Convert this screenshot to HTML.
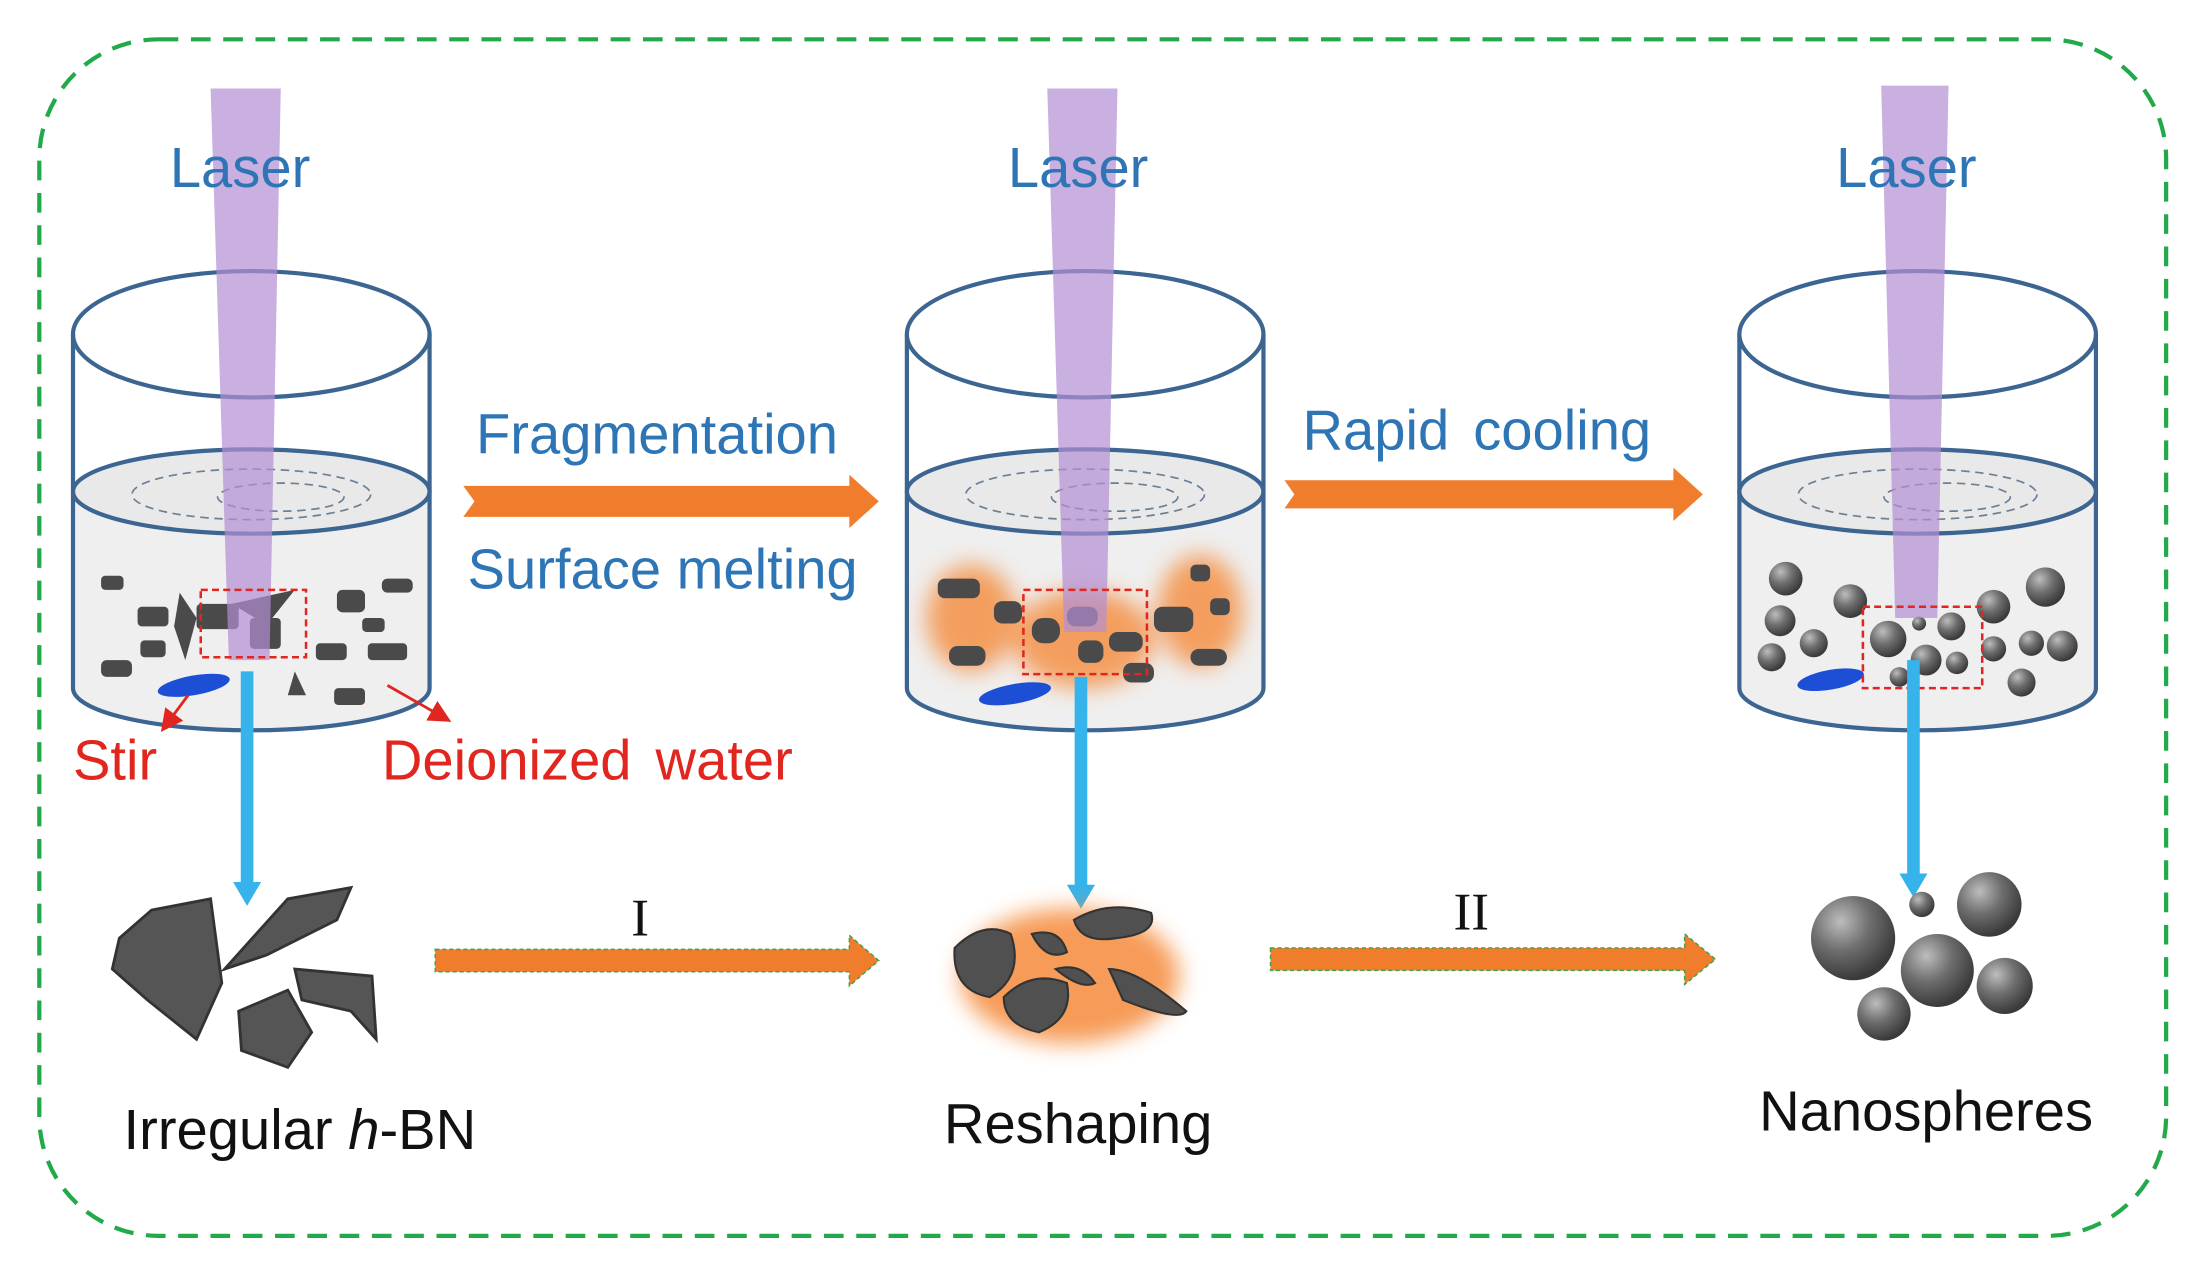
<!DOCTYPE html>
<html><head><meta charset="utf-8"><style>
html,body{margin:0;padding:0;background:#fff;}
svg{display:block}
text{font-family:"Liberation Sans",sans-serif}
</style></head><body>
<svg width="2190" height="1271" viewBox="0 0 1560 905" preserveAspectRatio="none" xmlns="http://www.w3.org/2000/svg">
<defs>
<radialGradient id="sph" cx="0.35" cy="0.3" r="0.7"><stop offset="0" stop-color="#bdbdbd"/><stop offset="0.5" stop-color="#6e6e6e"/><stop offset="1" stop-color="#3a3a3a"/></radialGradient>
<filter id="glow" x="-50%" y="-50%" width="200%" height="200%"><feGaussianBlur stdDeviation="8"/></filter>
<marker id="ra" markerWidth="8" markerHeight="8" refX="6" refY="4" orient="auto"><path d="M0,0 L8,4 L0,8z" fill="#e0261e"/></marker>
</defs>
<rect x="28" y="28" width="1515" height="852" rx="85" fill="none" stroke="#22a94a" stroke-width="3" stroke-dasharray="14,9"/>

<g id="b1">
<path d="M52,350 L52,490 A127,30 0 0 0 306,490 L306,350 A127,30 0 0 1 52,350z" fill="#efefef"/>
<ellipse cx="179" cy="350" rx="127" ry="30" fill="#e9e9e9" stroke="#3d6591" stroke-width="3"/>
<ellipse cx="179" cy="352" rx="85" ry="18" fill="none" stroke="#6b7f95" stroke-width="1.2" stroke-dasharray="6,4"/>
<ellipse cx="200" cy="354" rx="45" ry="10" fill="none" stroke="#6b7f95" stroke-width="1.2" stroke-dasharray="6,4"/>
<path d="M52,238 L52,490 A127,30 0 0 0 306,490 L306,238" fill="none" stroke="#3d6591" stroke-width="3"/>
<ellipse cx="179" cy="238" rx="127" ry="45" fill="none" stroke="#3d6591" stroke-width="3"/>
</g>
<use href="#b1" x="594"/>
<use href="#b1" x="1187"/>

<g filter="url(#glow)" fill="#f58a3a" opacity="0.8">
<ellipse cx="692" cy="440" rx="32" ry="38"/><ellipse cx="855" cy="435" rx="30" ry="40"/><ellipse cx="772" cy="455" rx="50" ry="35"/>
</g>

<g fill="#4a4a4a">
<rect x="72" y="410" width="16" height="10" rx="3"/><rect x="98" y="432" width="22" height="14" rx="3"/>
<polygon points="128,422 140,440 132,470 124,446"/><rect x="140" y="430" width="30" height="18" rx="3"/>
<polygon points="165,430 210,420 190,445"/><rect x="178" y="440" width="22" height="22" rx="3"/>
<rect x="240" y="420" width="20" height="16" rx="4"/><rect x="272" y="412" width="22" height="10" rx="4"/>
<rect x="100" y="456" width="18" height="12" rx="3"/><rect x="72" y="470" width="22" height="12" rx="4"/>
<polygon points="210,478 218,495 205,495"/><rect x="225" y="458" width="22" height="12" rx="3"/>
<rect x="262" y="458" width="28" height="12" rx="3"/><rect x="238" y="490" width="22" height="12" rx="3"/>
<rect x="258" y="440" width="16" height="10" rx="3"/>
</g>
<g fill="#4a4a4a">
<rect x="668" y="412" width="30" height="14" rx="5"/><rect x="676" y="460" width="26" height="14" rx="6"/>
<rect x="708" y="428" width="20" height="16" rx="6"/><rect x="735" y="440" width="20" height="18" rx="8"/>
<rect x="760" y="432" width="22" height="14" rx="6"/><rect x="790" y="450" width="24" height="14" rx="6"/>
<rect x="768" y="456" width="18" height="16" rx="6"/><rect x="800" y="472" width="22" height="14" rx="6"/>
<rect x="822" y="432" width="28" height="18" rx="6"/><rect x="848" y="402" width="14" height="12" rx="4"/>
<rect x="862" y="426" width="14" height="12" rx="4"/><rect x="848" y="462" width="26" height="12" rx="6"/>
</g>
<g fill="url(#sph)">
<circle cx="1272" cy="412" r="12"/><circle cx="1318" cy="428" r="12"/><circle cx="1268" cy="442" r="11"/>
<circle cx="1292" cy="458" r="10"/><circle cx="1262" cy="468" r="10"/><circle cx="1345" cy="455" r="13"/>
<circle cx="1367" cy="444" r="5"/><circle cx="1390" cy="446" r="10"/><circle cx="1372" cy="470" r="11"/>
<circle cx="1394" cy="472" r="8"/><circle cx="1353" cy="482" r="7"/><circle cx="1420" cy="432" r="12"/>
<circle cx="1457" cy="418" r="14"/><circle cx="1420" cy="462" r="9"/><circle cx="1447" cy="458" r="9"/>
<circle cx="1469" cy="460" r="11"/><circle cx="1440" cy="486" r="10"/>
</g>

<ellipse cx="138" cy="488" rx="26" ry="7" fill="#1d4fd6" transform="rotate(-10 138 488)"/>
<ellipse cx="723" cy="494" rx="26" ry="7" fill="#1d4fd6" transform="rotate(-10 723 494)"/>
<ellipse cx="1304" cy="484" rx="24" ry="7" fill="#1d4fd6" transform="rotate(-10 1304 484)"/>

<g fill="#b28fd4" opacity="0.7">
<polygon points="150,63 200,63 192,470 163,470"/>
<polygon points="746,63 796,63 788,450 758,450"/>
<polygon points="1340,61 1388,61 1380,440 1350,440"/>
</g>

<g fill="none" stroke="#e0261e" stroke-width="1.8" stroke-dasharray="5,3">
<rect x="143" y="420" width="75" height="48"/><rect x="729" y="420" width="88" height="60"/><rect x="1327" y="432" width="85" height="58"/>
</g>

<g stroke="#35b3ea" stroke-width="9" fill="#35b3ea">
<line x1="176" y1="478" x2="176" y2="630"/><line x1="770" y1="482" x2="770" y2="632"/><line x1="1363" y1="470" x2="1363" y2="624"/>
</g>
<g fill="#35b3ea">
<polygon points="166,628 186,628 176,645"/><polygon points="760,630 780,630 770,647"/><polygon points="1353,622 1373,622 1363,639"/>
</g>

<g fill="#ef7d2b">
<polygon points="330,346 605,346 605,338 626,357 605,376 605,368 330,368 338,357"/>
<polygon points="915,342 1192,342 1192,333 1213,352 1192,371 1192,362 915,362 922,352"/>
<polygon points="310,676 605,676 605,666 626,684 605,702 605,692 310,692" stroke="#3ba24a" stroke-width="1" stroke-dasharray="3,2"/>
<polygon points="905,675 1200,675 1200,665 1222,683 1200,701 1200,691 905,691" stroke="#3ba24a" stroke-width="1" stroke-dasharray="3,2"/>
</g>

<line x1="134" y1="495" x2="117" y2="518" stroke="#e0261e" stroke-width="2" marker-end="url(#ra)"/>
<line x1="276" y1="488" x2="318" y2="512" stroke="#e0261e" stroke-width="2" marker-end="url(#ra)"/>

<g fill="#555" stroke="#333" stroke-width="2">
<polygon points="85,668 108,648 150,640 158,700 140,740 105,712 80,690"/>
<polygon points="160,690 205,640 250,632 240,655 190,680"/>
<polygon points="210,690 265,695 268,740 250,720 215,712"/>
<polygon points="170,720 205,705 222,735 205,760 172,748"/>
</g>
<g filter="url(#glow)" fill="#f58a3a" opacity="0.85"><ellipse cx="762" cy="695" rx="78" ry="48"/></g>
<g fill="#505050" stroke="#333" stroke-width="1.5">
<path d="M680,675 Q700,655 720,665 Q730,695 705,710 Q678,705 680,675z"/>
<path d="M765,655 Q790,640 820,650 Q825,665 795,668 Q770,672 765,655z"/>
<path d="M735,665 Q755,660 760,678 Q745,685 735,665z"/>
<path d="M715,710 Q735,690 760,700 Q765,725 740,735 Q715,730 715,710z"/>
<path d="M790,690 Q810,690 845,720 Q840,728 800,712z"/>
<path d="M752,690 Q770,685 780,700 Q770,705 752,690z"/>
</g>
<g fill="url(#sph)">
<circle cx="1320" cy="668" r="30"/><circle cx="1369" cy="644" r="9"/><circle cx="1417" cy="644" r="23"/>
<circle cx="1380" cy="691" r="26"/><circle cx="1428" cy="702" r="20"/><circle cx="1342" cy="722" r="19"/>
</g>

<g fill="#2e75b6" font-size="40">
<text x="171" y="133" text-anchor="middle">Laser</text>
<text x="768" y="133" text-anchor="middle">Laser</text>
<text x="1358" y="133" text-anchor="middle">Laser</text>
<text x="468" y="323" text-anchor="middle">Fragmentation</text>
<text x="472" y="419" text-anchor="middle">Surface melting</text>
<text x="1052" y="320" text-anchor="middle" word-spacing="6">Rapid cooling</text>
</g>
<g fill="#e0261e" font-size="40">
<text x="52" y="555">Stir</text>
<text x="272" y="555" word-spacing="6">Deionized water</text>
</g>
<g fill="#111" font-size="40">
<text x="88" y="818">Irregular <tspan font-style="italic">h</tspan>-BN</text>
<text x="768" y="814" text-anchor="middle">Reshaping</text>
<text x="1372" y="805" text-anchor="middle">Nanospheres</text>
</g>
<g fill="#111" font-size="38">
<text x="456" y="666" text-anchor="middle" style="font-family:'Liberation Serif',serif">I</text>
<text x="1048" y="662" text-anchor="middle" style="font-family:'Liberation Serif',serif">II</text>
</g>
</svg>
</body></html>
